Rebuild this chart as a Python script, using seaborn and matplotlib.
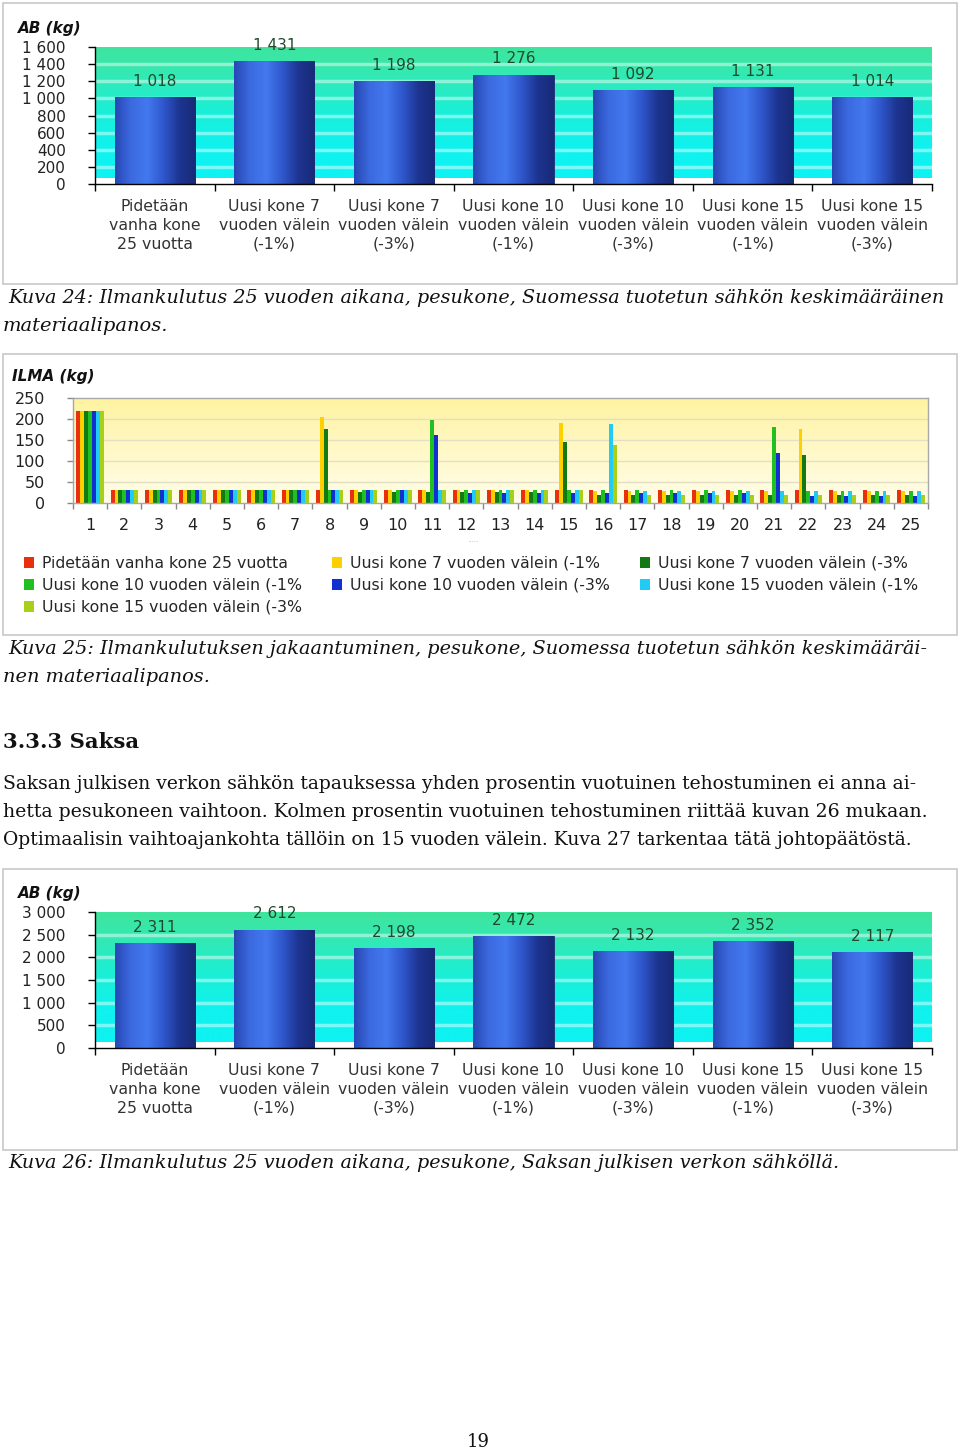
import numpy as np
import pandas as pd
import matplotlib
matplotlib.use("Agg")
import matplotlib.pyplot as plt
import seaborn as sns
from matplotlib.colors import LinearSegmentedColormap
from matplotlib.patches import Rectangle

# ---------------- data ----------------
ab_categories = [
    "Pidetään\nvanha kone\n25 vuotta",
    "Uusi kone 7\nvuoden välein\n(-1%)",
    "Uusi kone 7\nvuoden välein\n(-3%)",
    "Uusi kone 10\nvuoden välein\n(-1%)",
    "Uusi kone 10\nvuoden välein\n(-3%)",
    "Uusi kone 15\nvuoden välein\n(-1%)",
    "Uusi kone 15\nvuoden välein\n(-3%)",
]
ab_fi_values = [1018, 1431, 1198, 1276, 1092, 1131, 1014]
ab_de_values = [2311, 2612, 2198, 2472, 2132, 2352, 2117]
ab_fi_ticks = [0, 200, 400, 600, 800, 1000, 1200, 1400, 1600]
ab_de_ticks = [0, 500, 1000, 1500, 2000, 2500, 3000]

years = ["1", "2", "3", "4", "5", "6", "7", "8", "9", "10", "11", "12", "13",
         "14", "15", "16", "17", "18", "19", "20", "21", "22", "23", "24", "25"]
series_names = [
    "Pidetään vanha kone 25 vuotta",
    "Uusi kone 7 vuoden välein (-1%",
    "Uusi kone 7 vuoden välein (-3%",
    "Uusi kone 10 vuoden välein (-1%",
    "Uusi kone 10 vuoden välein (-3%",
    "Uusi kone 15 vuoden välein (-1%",
    "Uusi kone 15 vuoden välein (-3%",
]
series_colors = ["#e8300e", "#ffd000", "#137a13", "#20c020", "#1030d0", "#20ccf5", "#a8d018"]
ilma_pidetaan = [219, 31, 31, 31, 31, 31, 31, 31, 31, 31, 31, 31, 31, 31, 31, 31, 31, 31, 31, 31, 31, 31, 31, 31, 31]
ilma_7v_1 = [219, 31, 31, 31, 31, 31, 31, 204, 31, 31, 31, 31, 31, 31, 190, 28, 28, 28, 28, 28, 28, 176, 28, 28, 28]
ilma_7v_3 = [219, 31, 31, 31, 31, 31, 31, 176, 27, 27, 27, 27, 27, 27, 145, 20, 20, 20, 20, 20, 20, 115, 20, 20, 20]
ilma_10v_1 = [219, 31, 31, 31, 31, 31, 31, 31, 31, 31, 198, 31, 31, 31, 31, 31, 31, 31, 31, 31, 180, 28, 28, 28, 28]
ilma_10v_3 = [219, 31, 31, 31, 31, 31, 31, 31, 31, 31, 163, 24, 24, 24, 24, 24, 24, 24, 24, 24, 120, 17, 17, 17, 17]
ilma_15v_1 = [219, 31, 31, 31, 31, 31, 31, 31, 31, 31, 31, 31, 31, 31, 31, 188, 28, 28, 28, 28, 28, 28, 28, 28, 28]
ilma_15v_3 = [219, 31, 31, 31, 31, 31, 31, 31, 31, 31, 31, 31, 31, 31, 31, 138, 20, 20, 20, 20, 20, 20, 20, 20, 20]
ilma_ticks = [0, 50, 100, 150, 200, 250]

# ---------------- setup ----------------
sns.set_style("white")
plt.rcParams["font.family"] = ["DejaVu Sans"]
W, H = 960, 1453
fig = plt.figure(figsize=(W / 100, H / 100), dpi=100)
fig.patch.set_facecolor("white")


def px_axes(l, t, r, b):
    return fig.add_axes([l / W, 1 - b / H, (r - l) / W, (b - t) / H])


def frame(l, t, r, b):
    fig.add_artist(Rectangle((l / W, 1 - b / H), (r - l) / W, (b - t) / H,
                             transform=fig.transFigure, fill=False,
                             edgecolor="#c8c8c8", lw=1.2))


def fmt(v):
    return f"{v:,}".replace(",", " ")


renderer = fig.canvas.get_renderer()


def fit_text(x, y, s, width, **kw):
    t = fig.text(x / W, 1 - y / H, s, ha="left", va="center", **kw)
    bb = t.get_window_extent(renderer)
    t.set_fontsize(t.get_fontsize() * width / bb.width)
    return t


bar_cmap = LinearSegmentedColormap.from_list(
    "bar", ["#2748b4", "#3c6ae0", "#4378ee", "#2f57cc", "#1d3490", "#182a78"])
bg_cmap = LinearSegmentedColormap.from_list(
    "bg", ["#40e49c", "#30eab8", "#1aefd8", "#10f2ee", "#0ef2f2"])
ylw_cmap = LinearSegmentedColormap.from_list("ylw", ["#fff3a0", "#fff8c8", "#fffde8"])


def draw_ab_chart(ax, values, ticks, bg_bottom):
    ymax = ticks[-1]
    sns.barplot(x=ab_categories, y=values, ax=ax, width=0.67, color="#2b4fc0",
                saturation=1, errorbar=None, edgecolor="#1a2a70", linewidth=0.6,
                zorder=2)
    hgrad = np.linspace(0, 1, 256)[None, :]
    for p in list(ax.patches):
        x0, y0, w, h = p.get_x(), p.get_y(), p.get_width(), p.get_height()
        im = ax.imshow(hgrad, extent=[x0, x0 + w, y0, y0 + h], aspect="auto",
                       cmap=bar_cmap, zorder=2.5, interpolation="bilinear")
        im.set_clip_path(p)
    vgrad = np.linspace(0, 1, 256)[:, None]
    ax.imshow(vgrad, extent=[-0.5, 6.5, bg_bottom, ymax], aspect="auto",
              cmap=bg_cmap, zorder=0, interpolation="bilinear")
    for v in ticks[1:-1]:
        ax.axhline(v, color="white", alpha=0.45, lw=2.5, zorder=1)
    ax.bar_label(ax.containers[0], labels=[fmt(v) for v in values], padding=6,
                 fontsize=11, color="#1f4a2a", zorder=4)
    ax.set_xlim(-0.5, 6.5)
    ax.set_ylim(0, ymax)
    ax.set_yticks(ticks)
    ax.set_yticklabels([fmt(v) for v in ticks])
    ax.set_xlabel("")
    ax.set_ylabel("")
    for s in ["top", "right"]:
        ax.spines[s].set_visible(False)
    for s in ["left", "bottom"]:
        ax.spines[s].set_color("black")
        ax.spines[s].set_linewidth(1)
        ax.spines[s].set_zorder(5)
    ax.set_xticks(np.arange(-0.5, 7, 1), minor=True)
    ax.tick_params(axis="x", which="major", length=0, pad=10.5, labelsize=11.3,
                   labelcolor="#333333")
    ax.tick_params(axis="x", which="minor", length=5, width=1, color="black",
                   direction="out", bottom=True)
    ax.tick_params(axis="y", which="major", length=5, width=1, color="black",
                   direction="out", left=True, pad=16, labelsize=11,
                   labelcolor="#222222")
    for lab in ax.get_xticklabels():
        lab.set_linespacing(1.33)
    ax.set_facecolor("white")


# ---------------- chart 1 (Kuva 24) ----------------
frame(3, 3, 957, 284)
ax1 = px_axes(95, 47, 932, 184)
draw_ab_chart(ax1, ab_fi_values, ab_fi_ticks, 70)
fig.text(18 / W, 1 - 28 / H, "AB (kg)", fontsize=11, fontweight="bold",
         fontstyle="italic", ha="left", va="center", color="#111111")

cap_kw = dict(family="DejaVu Serif", fontstyle="italic", fontsize=14, color="#111111")
fit_text(8, 298, "Kuva 24: Ilmankulutus 25 vuoden aikana, pesukone, Suomessa tuotetun sähkön keskimääräinen",
         940, **cap_kw)
fit_text(3, 326, "materiaalipanos.", 166, **cap_kw)

# ---------------- chart 2 (Kuva 25) ----------------
frame(3, 354, 957, 635)
ax2 = px_axes(73, 398, 928, 503)
df = pd.DataFrame({
    "Vuosi": years * 7,
    "Sarja": np.repeat(series_names, len(years)),
    "ILMA": ilma_pidetaan + ilma_7v_1 + ilma_7v_3 + ilma_10v_1 + ilma_10v_3
            + ilma_15v_1 + ilma_15v_3,
})
sns.barplot(data=df, x="Vuosi", y="ILMA", hue="Sarja", order=years,
            hue_order=series_names, palette=series_colors, saturation=1,
            errorbar=None, width=0.8, linewidth=0, ax=ax2, zorder=2)
handles, labels = ax2.get_legend_handles_labels()
if ax2.get_legend() is not None:
    ax2.get_legend().remove()
vgrad = np.linspace(0, 1, 256)[:, None]
ax2.imshow(vgrad, extent=[-0.5, 24.5, 0, 250], aspect="auto", cmap=ylw_cmap,
           zorder=0, interpolation="bilinear")
for v in ilma_ticks[1:-1]:
    ax2.axhline(v, color="#e2dfc4", lw=1, zorder=1)
ax2.set_xlim(-0.5, 24.5)
ax2.set_ylim(0, 250)
ax2.set_yticks(ilma_ticks)
ax2.set_xlabel("")
ax2.set_ylabel("")
for s in ax2.spines.values():
    s.set_color("#a8a8a8")
    s.set_linewidth(1)
ax2.set_xticks(np.arange(-0.5, 25, 1), minor=True)
ax2.tick_params(axis="x", which="major", length=0, pad=11, labelsize=11.5,
                labelcolor="#222222")
ax2.tick_params(axis="x", which="minor", length=4, width=1, color="#888888",
                direction="out", bottom=True)
ax2.tick_params(axis="y", which="major", length=4, width=1, color="#888888",
                direction="out", left=True, pad=16, labelsize=11.5,
                labelcolor="#222222")
fig.text(12 / W, 1 - 376 / H, "ILMA (kg)", fontsize=11, fontweight="bold",
         fontstyle="italic", ha="left", va="center", color="#111111")
fig.text(474 / W, 1 - 540 / H, "......", fontsize=4, color="#999999",
         ha="center", va="center")
order = [0, 3, 6, 1, 4, 2, 5]
ax2.legend([handles[i] for i in order], [labels[i] for i in order], ncol=3,
           loc="upper left", bbox_to_anchor=(24 / W, 1 - 556 / H),
           bbox_transform=fig.transFigure, frameon=False, fontsize=11.3,
           handlelength=0.65, handleheight=0.65, handletextpad=0.5,
           columnspacing=1.9, labelspacing=0.44, borderpad=0, borderaxespad=0)

fit_text(8, 649, "Kuva 25: Ilmankulutuksen jakaantuminen, pesukone, Suomessa tuotetun sähkön keskimääräi-",
         922, **cap_kw)
fit_text(3, 677, "nen materiaalipanos.", 208, **cap_kw)

# ---------------- text section ----------------
fit_text(3, 742, "3.3.3 Saksa", 136, family="DejaVu Serif", fontweight="bold",
         fontsize=17, color="#111111")
body_kw = dict(family="DejaVu Serif", fontsize=14, color="#111111")
fit_text(3, 784, "Saksan julkisen verkon sähkön tapauksessa yhden prosentin vuotuinen tehostuminen ei anna ai-",
         925, **body_kw)
fit_text(3, 812, "hetta pesukoneen vaihtoon. Kolmen prosentin vuotuinen tehostuminen riittää kuvan 26 mukaan.",
         930, **body_kw)
fit_text(3, 840, "Optimaalisin vaihtoajankohta tällöin on 15 vuoden välein. Kuva 27 tarkentaa tätä johtopäätöstä.",
         917, **body_kw)

# ---------------- chart 3 (Kuva 26) ----------------
frame(3, 869, 957, 1150)
ax3 = px_axes(95, 912, 932, 1048)
draw_ab_chart(ax3, ab_de_values, ab_de_ticks, 130)
fig.text(18 / W, 1 - 893 / H, "AB (kg)", fontsize=11, fontweight="bold",
         fontstyle="italic", ha="left", va="center", color="#111111")
fit_text(8, 1163, "Kuva 26: Ilmankulutus 25 vuoden aikana, pesukone, Saksan julkisen verkon sähköllä.",
         835, **cap_kw)

fig.text(478 / W, 1 - 1442 / H, "19", family="DejaVu Serif", fontsize=13,
         ha="center", va="center", color="#111111")

fig.savefig("out.png", dpi=100, facecolor="white")
